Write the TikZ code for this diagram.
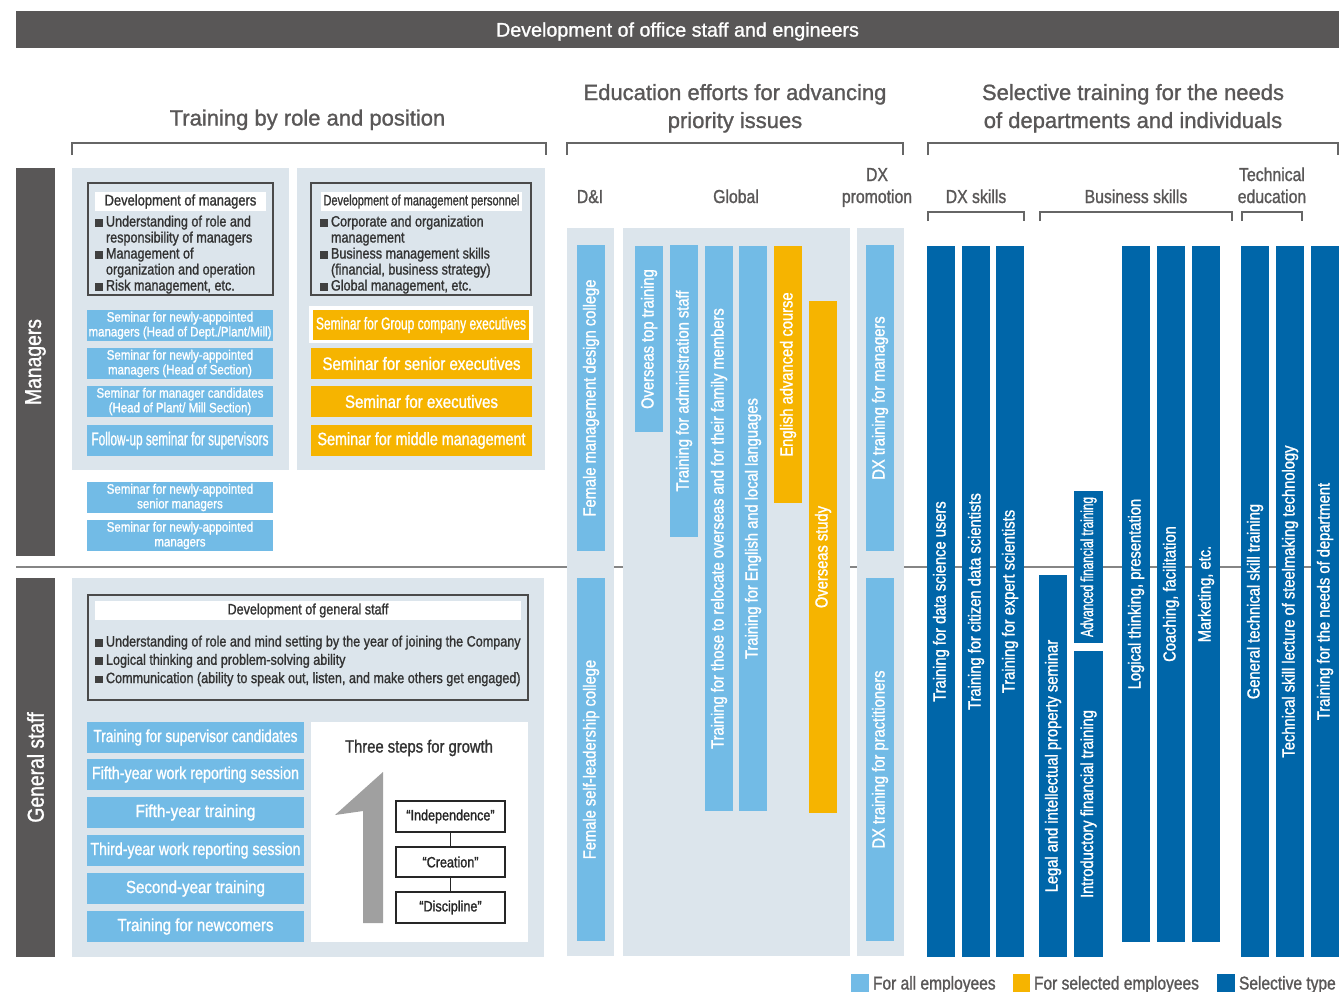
\documentclass[tikz,border=0pt]{standalone}
\usepackage{fontspec}
\setmainfont{Liberation Sans}[FakeStretch=0.84, FakeBold=1.2]
\newfontfamily\hdfont{Liberation Sans}[FakeBold=1.2]
\definecolor{dgray}{HTML}{595757}
\definecolor{panel}{HTML}{DCE5EC}
\definecolor{lblue}{HTML}{72BBE6}
\definecolor{orng}{HTML}{F6B400}
\definecolor{dblue}{HTML}{0066A9}
\definecolor{txtg}{HTML}{595757}
\definecolor{onegray}{HTML}{A0A0A0}
\definecolor{bulc}{HTML}{404040}
\definecolor{btxt}{HTML}{333333}
\definecolor{devc}{HTML}{4A4A4A}
\definecolor{brkc}{HTML}{666666}
\definecolor{sepc}{HTML}{858585}
\newcommand\fw[2]{\resizebox{#1pt}{\height}{#2}}
\newcommand\bul{\textcolor{bulc}{\rule{7.5pt}{7.5pt}}\hspace{3.5pt}}
\newcommand\bulind{\hspace*{11pt}}
\newcommand\mkbox[7]{\node[#2, minimum width={#5-#3}, minimum height={#6-#4}] (#1) at ({(#3+#5)/2},{(#4+#6)/2}) {#7};}
\newcommand\mkvbar[7]{\node[#2, rotate=90, minimum width={#6-#4}, minimum height={#5-#3}] (#1) at ({(#3+#5)/2},{(#4+#6)/2}) {#7};}
\tikzset{
  zs/.style={inner sep=0pt, outer sep=0pt},
  panelbox/.style={zs, fill=panel},
  vlab/.style={zs, fill=dgray, text=white, font=\fontsize{23}{26}\selectfont},
  lbar/.style={zs, fill=lblue, text=white, font=\fontsize{17.5}{20}\selectfont},
  obar/.style={lbar, fill=orng},
  dbar/.style={lbar, fill=dblue},
  lbox/.style={zs, fill=lblue, text=white, align=center, font=\fontsize{13.7}{14.7}\selectfont},
  obox/.style={zs, fill=orng, text=white, font=\fontsize{17.9}{20}\selectfont},
  gbox/.style={zs, fill=lblue, text=white, font=\fontsize{17.5}{20}\selectfont},
  devbox/.style={zs, draw=devc, line width=2pt},
  strip/.style={zs, fill=white, text=btxt, font=\fontsize{15.4}{17}\selectfont},
  bultxt/.style={zs, text=btxt, font=\fontsize{15}{16}\selectfont, anchor=base west},
  hdr/.style={zs, text=txtg, font=\hdfont\fontsize{22}{28}\selectfont, anchor=base},
  cat/.style={zs, text=txtg, font=\fontsize{18.8}{22}\selectfont, anchor=base},
  brk/.style={draw=brkc, line width=2pt},
  sepline/.style={draw=sepc, line width=1.5pt},
  stepbox/.style={zs, draw=black!85, line width=1.6pt, fill=white, text=black!85, font=\fontsize{15}{17}\selectfont},
  conn/.style={draw=black!85, line width=1.6pt},
  legtxt/.style={zs, text=txtg, font=\fontsize{18.5}{20}\selectfont, anchor=base west},
}
\begin{document}
\begin{tikzpicture}[x=1pt,y=-1pt]
\useasboundingbox (0,0) rectangle (1339,991);
% banner
\mkbox{banner}{zs, fill=dgray, text=white, font=\hdfont\fontsize{19.7}{22}\selectfont, text height=14.2pt, text depth=0pt}{16}{11}{1339}{48}{Development of office staff and engineers}
% headers
\node[hdr] (h1) at (307.5,125.5) {Training by role and position};
\node[hdr] (h2) at (735,100) {\begin{tabular}[t]{@{}c@{}}Education efforts for advancing\\priority issues\end{tabular}};
\node[hdr] (h3) at (1133,100) {\begin{tabular}[t]{@{}c@{}}Selective training for the needs\\of departments and individuals\end{tabular}};
\draw[brk] (72,155) -- (72,143) -- (546,143) -- (546,155);
\draw[brk] (567,155) -- (567,143) -- (903,143) -- (903,155);
\draw[brk] (928,155) -- (928,143) -- (1338,143) -- (1338,155);
% category heads
\node[cat] (cdi) at (590,203) {D\&I};
\node[cat] (cgl) at (736,203) {Global};
\node[cat] (cdx) at (877,181) {\begin{tabular}[t]{@{}c@{}}DX\\promotion\end{tabular}};
\node[cat] (cdxs) at (976,203) {DX skills};
\node[cat] (cbs) at (1136,203) {Business skills};
\node[cat] (cte) at (1272,181) {\begin{tabular}[t]{@{}c@{}}Technical\\education\end{tabular}};
\draw[brk] (928,221) -- (928,212) -- (1024,212) -- (1024,221);
\draw[brk] (1040,221) -- (1040,212) -- (1232,212) -- (1232,221);
\draw[brk] (1242,221) -- (1242,212) -- (1302,212) -- (1302,221);
% separator
\draw[sepline] (16,567) -- (1339,567);
% side labels
\mkvbar{mgr}{vlab}{16}{168}{55}{556}{Managers}
\mkvbar{gst}{vlab}{16}{578}{55}{957}{General staff}
% panels
\mkbox{p1}{panelbox}{72}{168}{289}{470}{}
\mkbox{p2}{panelbox}{297}{168}{545}{470}{}
\mkbox{p3}{panelbox}{72}{578}{544}{957}{}
\mkbox{pdi}{panelbox}{567}{228}{614}{956}{}
\mkbox{pgl}{panelbox}{623}{228}{850}{956}{}
\mkbox{pdx}{panelbox}{857}{228}{904}{956}{}
% development of managers
\mkbox{devm}{devbox}{87.5}{183}{272.5}{295}{}
\mkbox{devmt}{strip}{95}{192}{266}{211}{Development of managers}
\node[bultxt] (devml) at (95,226.5) {\begin{tabular}[t]{@{}l@{}}\bul Understanding of role and\\ \bulind responsibility of managers\\ \bul Management of\\ \bulind organization and operation\\ \bul Risk management, etc.\end{tabular}};
\mkbox{devp}{devbox}{311}{183}{531}{295}{}
\mkbox{devpt}{strip, font=\fontsize{15}{17}\selectfont}{321}{192}{522}{211}{\fw{196}{Development of management personnel}}
\node[bultxt] (devpl) at (320,226.5) {\begin{tabular}[t]{@{}l@{}}\bul Corporate and organization\\ \bulind management\\ \bul Business management skills\\ \bulind (financial, business strategy)\\ \bul Global management, etc.\end{tabular}};
% manager seminars
\mkbox{b1}{lbox}{87}{310}{273}{341}{Seminar for newly-appointed\\managers (Head of Dept./Plant/Mill)}
\mkbox{b2}{lbox}{87}{348}{273}{379}{Seminar for newly-appointed\\managers (Head of Section)}
\mkbox{b3}{lbox}{87}{386}{273}{417}{Seminar for manager candidates\\(Head of Plant/ Mill Section)}
\mkbox{b4}{lbox, font=\fontsize{18.6}{20}\selectfont}{87}{425}{273}{456}{\fw{177}{Follow-up seminar for supervisors}}
\mkbox{b5}{lbox}{87}{482}{273}{513}{Seminar for newly-appointed\\senior managers}
\mkbox{b6}{lbox}{87}{520}{273}{551}{Seminar for newly-appointed\\managers}
\mkbox{o1f}{zs, fill=white}{309}{306}{533}{343}{}
\mkbox{o1}{obox, font=\fontsize{17.2}{20}\selectfont}{313}{310}{529}{340}{\fw{210}{Seminar for Group company executives}}
\mkbox{o2}{obox}{311}{348}{532}{379}{Seminar for senior executives}
\mkbox{o3}{obox}{311}{386}{532}{417}{Seminar for executives}
\mkbox{o4}{obox}{311}{425}{532}{456}{\fw{208}{Seminar for middle management}}
% general staff
\mkbox{devg}{devbox}{87.5}{595}{528}{700}{}
\mkbox{devgt}{strip, font=\fontsize{15}{17}\selectfont}{95}{601}{521}{620}{Development of general staff}
\node[bultxt, font=\fontsize{15}{18.3}\selectfont] (devgl) at (95,646.5) {\begin{tabular}[t]{@{}l@{}}\bul Understanding of role and mind setting by the year of joining the Company\\ \bul Logical thinking and problem-solving ability\\ \bul Communication (ability to speak out, listen, and make others get engaged)\end{tabular}};
\mkbox{g1}{gbox}{87}{722}{304}{753}{\fw{204}{Training for supervisor candidates}}
\mkbox{g2}{gbox}{87}{759}{304}{790}{\fw{207}{Fifth-year work reporting session}}
\mkbox{g3}{gbox}{87}{797}{304}{828}{\fw{120}{Fifth-year training}}
\mkbox{g4}{gbox}{87}{835}{304}{866}{\fw{210}{Third-year work reporting session}}
\mkbox{g5}{gbox}{87}{873}{304}{904}{\fw{139}{Second-year training}}
\mkbox{g6}{gbox}{87}{911}{304}{942}{\fw{156}{Training for newcomers}}
\mkbox{tsg}{zs, fill=white}{311}{722}{528}{942}{}
\node[zs, anchor=base, text=btxt, font=\fontsize{17.6}{20}\selectfont] (tsgt) at (419,752.5) {Three steps for growth};
\fill[onegray] (383,772) -- (335,815) -- (363,811) -- (363,923) -- (383,923) -- cycle;
\mkbox{ind}{stepbox}{396}{801}{505}{832}{“Independence”}
\mkbox{cre}{stepbox}{396}{847}{505}{877}{“Creation”}
\mkbox{dis}{stepbox}{396}{892}{505}{923}{“Discipline”}
\draw[conn] (ind) -- (cre);
\draw[conn] (cre) -- (dis);
% education efforts bars
\mkvbar{fmd}{lbar}{577}{245}{605}{551}{Female management design college}
\mkvbar{fsl}{lbar}{577}{578}{605}{941}{Female self-leadership college}
\mkvbar{ott}{lbar}{635}{246}{663}{432}{Overseas top training}
\mkvbar{tas}{lbar}{670}{245}{698}{537}{Training for administration staff}
\mkvbar{trl}{lbar}{705}{246}{733}{811}{Training for those to relocate overseas and for their family members}
\mkvbar{tel}{lbar}{739}{246}{767}{811}{Training for English and local languages}
\mkvbar{eac}{obar}{774}{246}{802}{503}{English advanced course}
\mkvbar{ost}{obar}{809}{301}{837}{813}{Overseas study}
\mkvbar{dxm}{lbar}{866}{245}{894}{551}{DX training for managers}
\mkvbar{dxp}{lbar}{866}{578}{894}{941}{DX training for practitioners}
% selective bars
\mkvbar{dsu}{dbar}{927}{246}{955}{957}{Training for data science users}
\mkvbar{cds}{dbar}{962}{246}{990}{957}{Training for citizen data scientists}
\mkvbar{exs}{dbar}{996}{246}{1024}{957}{Training for expert scientists}
\mkvbar{lip}{dbar}{1039}{575}{1067}{957}{Legal and intellectual property seminar}
\mkvbar{aft}{dbar}{1074}{491}{1103}{643}{\fw{140}{Advanced financial training}}
\mkvbar{ift}{dbar}{1074}{651}{1103}{957}{Introductory financial training}
\mkvbar{ltp}{dbar}{1122}{246}{1150}{942}{Logical thinking, presentation}
\mkvbar{cof}{dbar}{1157}{246}{1185}{942}{Coaching, facilitation}
\mkvbar{mkt}{dbar}{1192}{246}{1220}{942}{Marketing, etc.}
\mkvbar{gts}{dbar}{1241}{246}{1269}{957}{General technical skill training}
\mkvbar{tsl}{dbar}{1276}{246}{1304}{957}{Technical skill lecture of steelmaking technology}
\mkvbar{tnd}{dbar}{1311}{246}{1339}{957}{Training for the needs of department}
% legend
\mkbox{lg1}{zs, fill=lblue}{851}{974}{869}{995}{}
\node[legtxt] (lg1t) at (873,989.5) {For all employees};
\mkbox{lg2}{zs, fill=orng}{1013}{974}{1030}{995}{}
\node[legtxt] (lg2t) at (1034,989.5) {For selected employees};
\mkbox{lg3}{zs, fill=dblue}{1217}{974}{1235}{995}{}
\node[legtxt] (lg3t) at (1239,989.5) {Selective type};
\end{tikzpicture}
\end{document}
